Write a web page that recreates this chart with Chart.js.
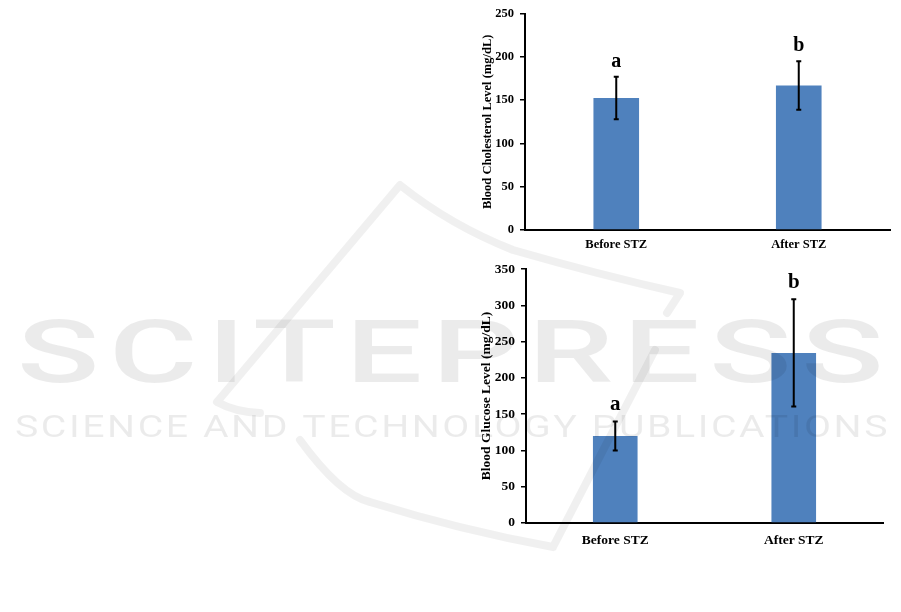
<!DOCTYPE html>
<html>
<head>
<meta charset="utf-8">
<script src="https://cdn.jsdelivr.net/npm/chart.js@4.4.0/dist/chart.umd.min.js"></script>
<style>
  html, body { margin: 0; padding: 0; background: #fff; }
  body { width: 901px; height: 612px; position: relative; overflow: hidden; }
  .box { position: absolute; }
  #wm { position: absolute; left: 0; top: 0; pointer-events: none; }
</style>
</head>
<body>
<div class="box" style="left:470px;top:0;width:431px;height:255px"><canvas id="cholChart"></canvas></div>
<div class="box" style="left:470px;top:255px;width:431px;height:300px"><canvas id="glucChart"></canvas></div>
<canvas id="wm" width="901" height="612"></canvas>
<script>
// data
const groups = ['Before STZ', 'After STZ'];

const cholMean = [152.5, 167];
const cholSD = [24.5, 28];
const cholLetters = ['a', 'b'];
const cholTicks = [0, 50, 100, 150, 200, 250];

const glucMean = [120, 234.5];
const glucSD = [20, 74];
const glucLetters = ['a', 'b'];
const glucTicks = [0, 50, 100, 150, 200, 250, 300, 350];

const SERIF = '"Liberation Serif", "Times New Roman", serif';

// error bars + significance letters, drawn from the y scale
const errorBars = {
    id: 'errorBars',
    afterDatasetsDraw(chart, args, opts) {
        const ctx = chart.ctx;
        const y = chart.scales.y;
        const meta = chart.getDatasetMeta(0);
        ctx.save();
        ctx.strokeStyle = '#000';
        ctx.lineWidth = 2;
        meta.data.forEach((bar, i) => {
            const yt = y.getPixelForValue(opts.mean[i] + opts.sd[i]);
            const yb = y.getPixelForValue(opts.mean[i] - opts.sd[i]);
            ctx.beginPath();
            ctx.moveTo(bar.x, yt); ctx.lineTo(bar.x, yb);
            ctx.moveTo(bar.x - 2.5, yt); ctx.lineTo(bar.x + 2.5, yt);
            ctx.moveTo(bar.x - 2.5, yb); ctx.lineTo(bar.x + 2.5, yb);
            ctx.stroke();
            ctx.fillStyle = '#000';
            ctx.font = 'bold ' + opts.letterSize + 'px ' + SERIF;
            ctx.textAlign = 'center';
            ctx.textBaseline = 'middle';
            ctx.fillText(opts.letters[i], bar.x, yt - opts.gap);
        });
        ctx.restore();
    }
};

function makeChart(id, means, sds, letters, ticks, title, cfg) {
    return new Chart(document.getElementById(id), {
        type: 'bar',
        data: {
            labels: groups,
            datasets: [{
                data: means,
                backgroundColor: '#4F81BD',
                barPercentage: 0.25,
                categoryPercentage: 1
            }]
        },
        options: {
            responsive: true,
            maintainAspectRatio: false,
            animation: false,
            layout: { padding: { top: cfg.padTop, right: cfg.padRight, left: 0, bottom: 0 } },
            plugins: {
                legend: { display: false },
                tooltip: { enabled: false },
                errorBars: { mean: means, sd: sds, letters: letters, gap: cfg.gap, letterSize: cfg.letterSize }
            },
            scales: {
                x: {
                    grid: { display: false, drawTicks: false },
                    border: { display: true, color: '#000', width: 2 },
                    ticks: { color: '#000', padding: cfg.xPad, font: { family: SERIF, weight: 'bold', size: cfg.xFont } },
                    afterFit: s => { s.height = cfg.xHeight; }
                },
                y: {
                    min: 0,
                    max: ticks[ticks.length - 1],
                    afterBuildTicks: s => { s.ticks = ticks.map(v => ({ value: v })); },
                    grid: { display: true, drawOnChartArea: false, drawTicks: true, tickLength: 5, color: '#000', lineWidth: 1.5 },
                    border: { display: true, color: '#000', width: 2 },
                    ticks: { color: '#000', padding: 6, font: { family: SERIF, weight: 'bold', size: cfg.yFont } },
                    title: {
                        display: true, text: title, color: '#000',
                        font: { family: SERIF, weight: 'bold', size: cfg.titleFont },
                        padding: { top: cfg.titlePad, bottom: 0 }
                    },
                    afterFit: s => { s.width = cfg.yWidth; }
                }
            }
        },
        plugins: [errorBars]
    });
}

makeChart('cholChart', cholMean, cholSD, cholLetters, cholTicks, 'Blood Cholesterol Level (mg/dL)', {
    padTop: 10.7, padRight: 11, yWidth: 55, xHeight: 25, xPad: 7,
    xFont: 12.5, yFont: 12.5, titleFont: 12.5, titlePad: 10, gap: 15, letterSize: 20
});

makeChart('glucChart', glucMean, glucSD, glucLetters, glucTicks, 'Blood Glucose Level (mg/dL)', {
    padTop: 14, padRight: 18, yWidth: 56, xHeight: 32, xPad: 9,
    xFont: 13.5, yFont: 13.5, titleFont: 13.5, titlePad: 8, gap: 17, letterSize: 21
});

// publisher watermark over the page
const wm = document.getElementById('wm').getContext('2d');
wm.fillStyle = 'rgba(0,0,0,0.08)';
wm.strokeStyle = 'rgba(0,0,0,0.06)';
function fitText(text, font, spacing, x1, x2, base) {
    wm.font = font;
    wm.letterSpacing = spacing;
    const w = wm.measureText(text).width;
    wm.save();
    wm.translate(x1, base);
    wm.scale((x2 - x1) / w, 1);
    wm.fillText(text, 0, 0);
    wm.restore();
}
fitText('SCITEPRESS', '500 87px Roboto', '6px', 17, 893, 382);
fitText('SCIENCE AND TECHNOLOGY PUBLICATIONS', '31px Roboto', '2px', 15, 890, 437);

// faint logo outline behind the lettering
wm.lineWidth = 8;
wm.lineCap = 'round';
wm.lineJoin = 'round';
wm.beginPath();
wm.moveTo(217, 402);
wm.lineTo(400, 185);
wm.quadraticCurveTo(450, 225, 513, 250);
wm.quadraticCurveTo(600, 275, 680, 293);
wm.lineTo(667, 313);
wm.moveTo(217, 402);
wm.quadraticCurveTo(235, 412, 260, 413);
wm.moveTo(655, 350);
wm.lineTo(553, 547);
wm.moveTo(300, 440);
wm.quadraticCurveTo(340, 495, 370, 502);
wm.quadraticCurveTo(460, 530, 553, 547);
wm.stroke();
</script>
</body>
</html>
